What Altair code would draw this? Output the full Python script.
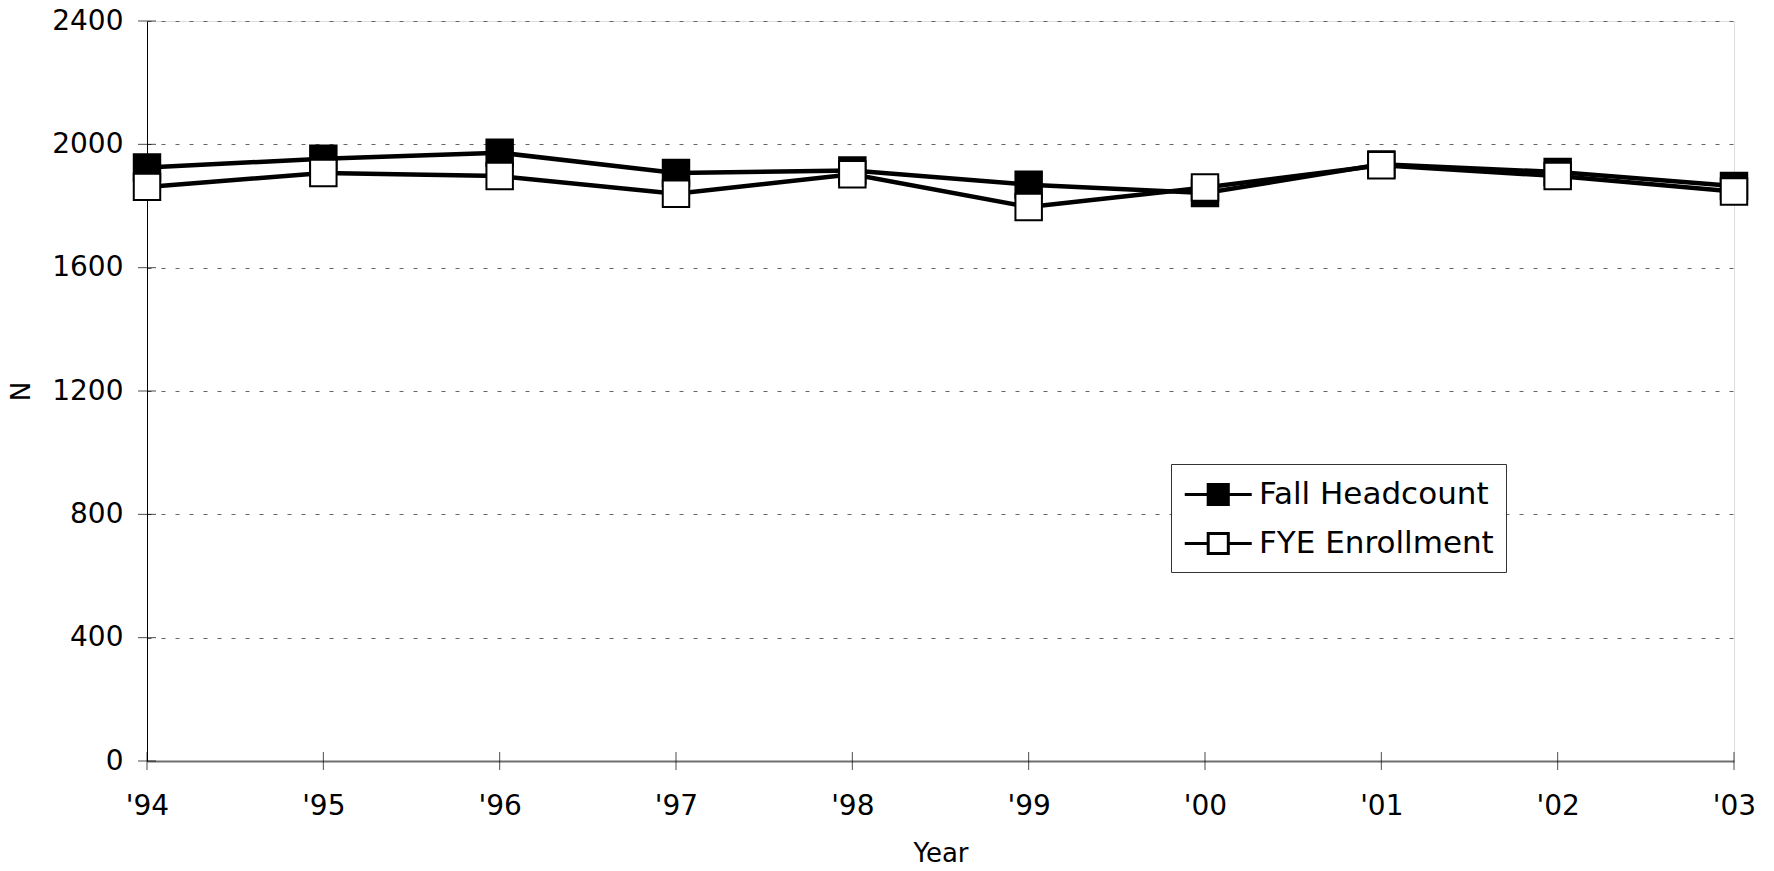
import altair as alt
import pandas as pd

years = ["'94", "'95", "'96", "'97", "'98", "'99", "'00", "'01", "'02", "'03"]
fall_headcount = [1925, 1953, 1973, 1907, 1915, 1869, 1842, 1935, 1910, 1865]
fye_enrollment = [1862, 1907, 1897, 1840, 1903, 1797, 1860, 1932, 1897, 1847]
series_names = ["Fall Headcount", "FYE Enrollment"]
y_ticks = [0, 400, 800, 1200, 1600, 2000, 2400]

rows = []
for s, vals in zip(series_names, [fall_headcount, fye_enrollment]):
    for i, (yr, v) in enumerate(zip(years, vals)):
        rows.append({"Year": yr, "N": v, "Series": s, "idx": i})
df = pd.DataFrame(rows)

ytick_df = pd.DataFrame({"Year": [years[0]] * len(y_ticks), "N": y_ticks})
xtick_df = pd.DataFrame({"Year": years, "N": [0] * len(years)})

FONT = "DejaVu Sans"

x_scale = alt.Scale(type="point", domain=years, padding=0)
y_scale = alt.Scale(domain=[0, 2400], nice=False)

x_axis = alt.Axis(
    title="Year", labelAngle=0, ticks=False, grid=False,
    domainColor="#6e6e6e", domainWidth=2,
    labelFontSize=28, labelPadding=31, labelColor="black", labelFont=FONT,
    titleFontSize=26, titlePadding=20, titleFontWeight="normal", titleColor="black", titleFont=FONT,
)
y_axis = alt.Axis(
    title="N", values=y_ticks, format="d", ticks=False, grid=True,
    gridColor="#666666", gridDash=[4, 10], gridWidth=1,
    domainColor="black", domainWidth=1,
    labelFontSize=28, labelPadding=24, labelColor="black", labelFont=FONT,
    titleFontSize=26, titlePadding=17, titleFontWeight="normal", titleColor="black", titleFont=FONT,
)

X = alt.X("Year:O", scale=x_scale, axis=x_axis, sort=years)
Y = alt.Y("N:Q", scale=y_scale, axis=y_axis)

lines = alt.Chart(df).mark_line(color="black", strokeWidth=4.5).encode(
    x=X, y=Y, detail="Series:N", order="idx:Q"
)

yticks = alt.Chart(ytick_df).mark_tick(
    orient="horizontal", size=18, thickness=1, color="black"
).encode(x=alt.X("Year:O", scale=x_scale, sort=years), y=alt.Y("N:Q", scale=y_scale))

xticks = alt.Chart(xtick_df).mark_tick(
    orient="vertical", size=18, thickness=1, color="black"
).encode(x=alt.X("Year:O", scale=x_scale, sort=years), y=alt.Y("N:Q", scale=y_scale))

# line + square legend glyph, shifted right so it starts at the legend padding
legend_symbol = "M-1,0H0.4M1.6,0H3M0.4,-0.6H1.6V0.6H0.4Z"

points = alt.Chart(df).mark_point(
    shape="square", filled=True, size=700, stroke="black", strokeWidth=2, opacity=1
).encode(
    x=alt.X("Year:O", scale=x_scale, sort=years),
    y=alt.Y("N:Q", scale=y_scale),
    fill=alt.Fill(
        "Series:N",
        scale=alt.Scale(domain=series_names, range=["black", "white"]),
        legend=alt.Legend(
            title=None, orient="none", legendX=1024, legendY=443,
            symbolType=legend_symbol, symbolSize=1122,
            symbolStrokeColor="black", symbolStrokeWidth=3, symbolOpacity=1,
            labelFontSize=31, labelFont=FONT, labelColor="black", labelOffset=39,
            labelLimit=400,
            rowPadding=14, padding=12,
            strokeColor="#333333", fillColor="white",
        ),
    ),
)

chart = alt.layer(lines, yticks, xticks, points).properties(
    width=1587, height=740,
    padding={"left": 139, "top": 13, "right": 30, "bottom": 110},
    autosize=alt.AutoSizeParams(type="none"),
).configure_view(stroke=None).configure(font=FONT, background="white")

chart.save("out.html", embed_options={"renderer": "svg", "actions": False})
